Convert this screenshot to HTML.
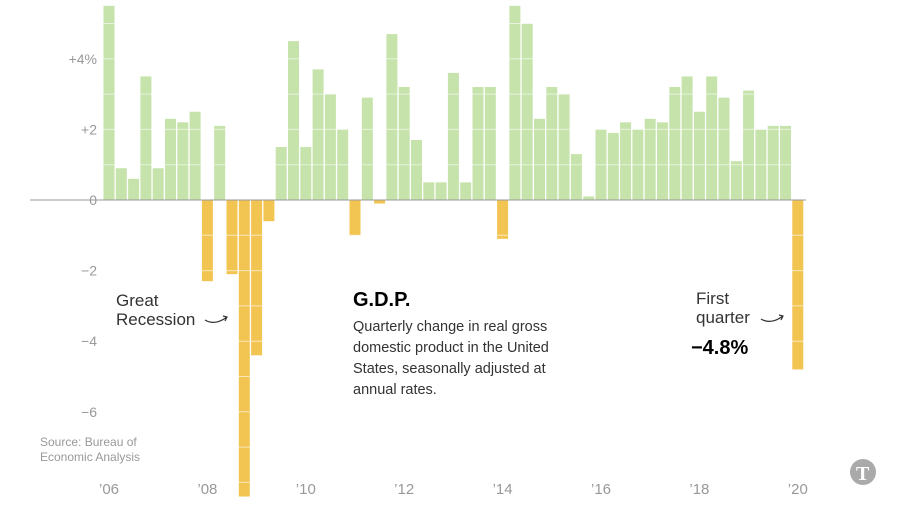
<!DOCTYPE html>
<html><head><meta charset="utf-8"><style>
body{margin:0;background:#fff;width:900px;height:506px;overflow:hidden;font-family:"Liberation Sans",sans-serif}
svg{display:block}
</style></head><body>
<svg id="chart" width="900" height="506">
<g id="bars"></g>
<g id="grid"></g>
<g id="axis"></g>
<g font-size="17" fill="#333">
<text x="116" y="306">Great</text>
<text x="116" y="325">Recession</text>
<path d="M205 320 q10 6 22 -3 m-4 -1 l4 1 l-2 4" stroke="#333" fill="none" stroke-width="1.2"/>
</g>
<g>
<text x="353" y="306" font-size="20" font-weight="bold" fill="#000">G.D.P.</text>
<g font-size="14.5" fill="#333">
<text x="353" y="331">Quarterly change in real gross</text>
<text x="353" y="352">domestic product in the United</text>
<text x="353" y="373">States, seasonally adjusted at</text>
<text x="353" y="394">annual rates.</text>
</g></g>
<g fill="#333">
<text x="696" y="304" font-size="17">First</text>
<text x="696" y="323" font-size="17">quarter</text>
<path d="M761 319 q10 6 22 -3 m-4 -1 l4 1 l-2 4" stroke="#333" fill="none" stroke-width="1.2"/>
<text x="691" y="354" font-size="20" font-weight="bold" fill="#000">−4.8%</text>
</g>
<g font-size="12" fill="#999">
<text x="40" y="446">Source: Bureau of</text>
<text x="40" y="461">Economic Analysis</text>
</g>
<g><circle cx="863" cy="472" r="13" fill="#aaa"/><text x="856" y="480" font-family="Liberation Serif,serif" font-size="20" font-weight="bold" fill="#fff">T</text></g>
</svg>
<script>
const years = [2006,2007,2008,2009,2010,2011,2012,2013,2014,2015,2016,2017,2018,2019,2020];
const gdpValues = [5.5,0.9,0.6,3.5, 0.9,2.3,2.2,2.5, -2.3,2.1,-2.1,-8.4, -4.4,-0.6,1.5,4.5, 1.5,3.7,3.0,2.0, -1.0,2.9,-0.1,4.7, 3.2,1.7,0.5,0.5, 3.6,0.5,3.2,3.2, -1.1,5.5,5.0,2.3, 3.2,3.0,1.3,0.1, 2.0,1.9,2.2,2.0, 2.3,2.2,3.2,3.5, 2.5,3.5,2.9,1.1, 3.1,2.0,2.1,2.1, -4.8];
const yTicks = [4,2,0,-2,-4,-6];
const yTickLabels = ["+4%","+2","0","−2","−4","−6"];
const xTickYears = [2006,2008,2010,2012,2014,2016,2018,2020];
const xTickLabels = ["’06","’08","’10","’12","’14","’16","’18","’20"];

const NS="http://www.w3.org/2000/svg";
const x0=103.5, step=12.3, bw=11;
const y=v=>200-v*35.3;
const xq=i=>x0+i*step;
const bars=document.getElementById('bars'), grid=document.getElementById('grid'), axis=document.getElementById('axis');
function mk(t,a,p){const e=document.createElementNS(NS,t);for(const k in a)e.setAttribute(k,a[k]);p.appendChild(e);return e;}
gdpValues.forEach((v,i)=>{
  const yy=Math.max(0,Math.min(y(v),y(0))), h=Math.abs(y(v)-y(0));
  const r=mk('rect',{x:xq(i),y:yy,width:bw,height:h,fill:v>=0?'#c5e3aa':'#f2c552'},bars);
  
  
});
for(let v=-8;v<=5;v++){ if(v===0)continue;
  mk('line',{x1:100,x2:806,y1:y(v),y2:y(v),stroke:'#fff','stroke-width':1,opacity:0.6},grid);
}
mk('line',{x1:30,x2:806,y1:y(0),y2:y(0),stroke:'#999','stroke-width':1},axis);
yTicks.forEach((t,i)=>{
  const e=mk('text',{x:97,y:y(t)+5,'text-anchor':'end','font-size':14,fill:'#999'},axis);
  e.textContent=yTickLabels[i];
  
  
});
xTickYears.forEach((yr,i)=>{
  const idx=(yr-2006)*4;
  const e=mk('text',{x:xq(idx)+bw/2,y:494,'text-anchor':'middle','font-size':15,fill:'#999'},axis);
  e.textContent=xTickLabels[i];
  
  
});
</script>
</body></html>
